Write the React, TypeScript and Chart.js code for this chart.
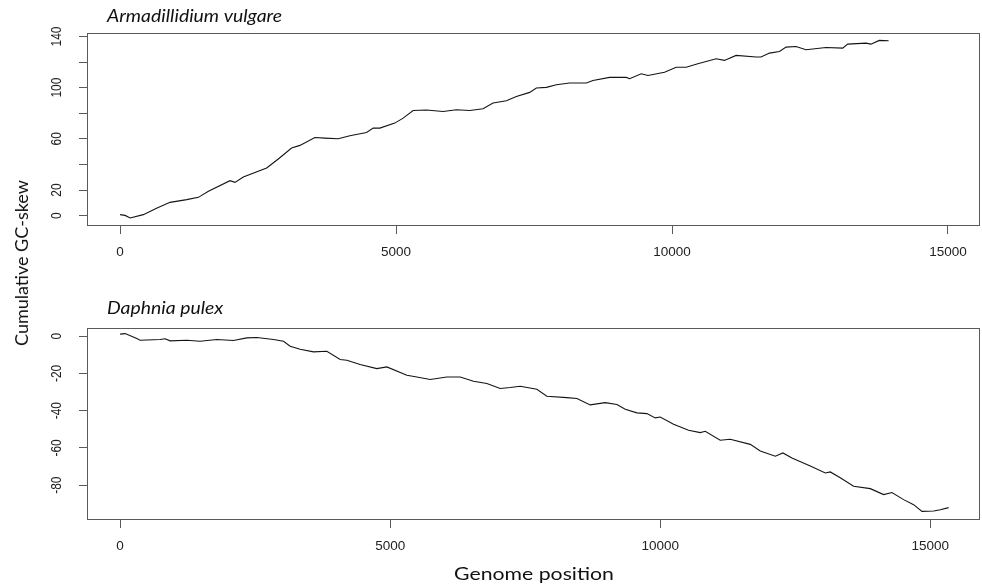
import React, { useEffect, useRef } from "react";
import { Chart, registerables } from "chart.js";

Chart.register(...registerables);

// ---- data ----
const armPos = [0, 90, 181, 420, 670, 905, 1207, 1418, 1600, 1991, 2081, 2232, 2655, 2866, 3107, 3258, 3529, 3710, 3952, 4163, 4465, 4585, 4706, 4977, 5128, 5309, 5551, 5852, 6094, 6335, 6576, 6757, 6999, 7180, 7421, 7542, 7723, 7904, 8145, 8447, 8567, 8869, 9170, 9231, 9442, 9563, 9864, 10075, 10256, 10467, 10800, 10950, 11161, 11523, 11613, 11765, 11946, 12066, 12247, 12428, 12790, 13092, 13183, 13514, 13604, 13755, 13924];
const armSkew = [0.8, 0.2, -1.8, 0.8, 6, 10.4, 12.5, 14.3, 19, 27.3, 26, 30.2, 37.2, 44.3, 52.8, 54.9, 61.1, 60.6, 60.1, 62.4, 65, 68.4, 68.4, 72.3, 76.2, 82.2, 82.5, 81.4, 82.7, 82.2, 83.5, 88, 89.8, 93.1, 96.3, 99.7, 100.2, 102.3, 103.6, 103.6, 105.6, 108, 108, 107, 110.8, 109.5, 112, 115.9, 115.9, 118.7, 122.6, 121.3, 125.2, 123.9, 123.9, 127, 128.3, 131.7, 132.2, 129.6, 131.4, 130.9, 134, 134.8, 134, 136.9, 136.6];

const dapPos = [0, 93, 309, 370, 741, 833, 926, 1235, 1481, 1790, 2099, 2346, 2531, 2840, 3025, 3148, 3333, 3580, 3827, 4074, 4198, 4444, 4753, 4938, 5309, 5494, 5741, 6049, 6296, 6543, 6790, 7037, 7222, 7407, 7716, 7901, 8272, 8457, 8704, 8981, 9198, 9352, 9568, 9753, 9907, 10000, 10247, 10525, 10741, 10833, 11111, 11296, 11667, 11852, 12130, 12272, 12438, 12778, 13056, 13148, 13333, 13580, 13889, 14136, 14290, 14506, 14691, 14846, 15062, 15185, 15339];
const dapSkew = [1.1, 1.4, -1.3, -2.2, -1.8, -1.4, -2.5, -2.2, -2.7, -1.8, -2.3, -0.9, -0.7, -1.8, -2.7, -5.4, -7, -8.4, -8.1, -12.5, -12.9, -15.2, -17.4, -16.5, -21, -21.9, -23.3, -21.9, -21.9, -24.2, -25.4, -28.1, -27.6, -26.9, -28.5, -32.3, -33, -33.5, -36.9, -35.7, -36.7, -39.2, -41.2, -41.6, -43.9, -43.4, -47.3, -50.5, -51.8, -51.1, -55.9, -55.4, -58.1, -61.7, -64.5, -62.7, -65.4, -69.7, -73.5, -72.9, -76, -80.6, -81.9, -85.1, -84, -87.8, -90.5, -94.1, -93.9, -93.2, -92.1];

const xTicks = [0, 5000, 10000, 15000];
const armYTicks = [0, 20, 40, 60, 80, 100, 120, 140];
const armYLabels = ["0", "20", "", "60", "", "100", "", "140"];
const dapYTicks = [0, -20, -40, -60, -80];
const dapYLabels = ["0", "-20", "-40", "-60", "-80"];

const panelTitles = ["Armadillidium vulgare", "Daphnia pulex"];
const yAxisTitle = "Cumulative GC-skew";
const xAxisTitle = "Genome position";

const AXIS_COLOR = "#5a5a5a";
const TEXT_COLOR = "#222222";
const TICK_FONT = '"Liberation Sans", Arial, sans-serif';

const panelPlugin = {
  id: "panelDeco",
  afterDraw(chart: any, _args: any, opts: any) {
    const { ctx, chartArea } = chart;
    const ys = chart.scales.y;
    ctx.save();
    // box
    ctx.strokeStyle = AXIS_COLOR;
    ctx.lineWidth = 1;
    ctx.strokeRect(
      Math.round(chartArea.left) + 0.5,
      Math.round(chartArea.top) + 0.5,
      Math.round(chartArea.right - chartArea.left) - 1,
      Math.round(chartArea.bottom - chartArea.top)
    );
    // rotated y labels
    ctx.fillStyle = TEXT_COLOR;
    ctx.font = `14px ${TICK_FONT}`;
    ctx.textAlign = "center";
    ctx.textBaseline = "alphabetic";
    opts.ticks.forEach((v: number, i: number) => {
      const lab = opts.labels[i];
      if (!lab) return;
      const py = ys.getPixelForValue(v);
      ctx.save();
      ctx.translate(opts.labelX, py);
      ctx.rotate(-Math.PI / 2);
      ctx.scale(0.85, 1);
      ctx.fillText(lab, 0, 0);
      ctx.restore();
    });
    // italic title
    ctx.font = `italic 17px Lato, "Open Sans", sans-serif`;
    ctx.fillStyle = "#111111";
    ctx.textAlign = "left";
    ctx.textBaseline = "middle";
    ctx.translate(chartArea.left + opts.titleDx, opts.titleY);
    ctx.scale(1.14, 1);
    ctx.fillText(opts.title, 0, 0);
    ctx.restore();
  },
};

function makeChart(
  canvas: HTMLCanvasElement,
  xs: number[],
  ys: number[],
  xmin: number,
  xmax: number,
  ymin: number,
  ymax: number,
  yTicks: number[],
  yLabels: string[],
  title: string,
  padTop: number,
  xHeight: number
) {
  return new Chart(canvas, {
    type: "line",
    data: {
      datasets: [
        {
          data: xs.map((x, i) => ({ x, y: ys[i] })),
          borderColor: "#141414",
          borderWidth: 1.1,
          pointRadius: 0,
          tension: 0,
          fill: false,
        },
      ],
    },
    options: {
      responsive: false,
      animation: false,
      events: [],
      layout: { padding: { left: 0, right: 2, top: padTop, bottom: 0 } },
      plugins: {
        legend: { display: false },
        tooltip: { enabled: false },
        title: { display: false },
        panelDeco: { ticks: yTicks, labels: yLabels, labelX: 61, title, titleDx: 20, titleY: 16.5 },
      } as any,
      scales: {
        x: {
          type: "linear",
          min: xmin,
          max: xmax,
          afterBuildTicks: (s: any) => {
            s.ticks = xTicks.map((v) => ({ value: v }));
          },
          afterFit: (s: any) => {
            s.height = xHeight;
          },
          ticks: {
            autoSkip: false,
            maxRotation: 0,
            minRotation: 0,
            padding: 10,
            color: TEXT_COLOR,
            font: { family: TICK_FONT, size: 13.5 },
            callback: (v: any) => String(v),
          },
          grid: {
            display: true,
            drawOnChartArea: false,
            drawTicks: true,
            tickLength: 9,
            color: AXIS_COLOR,
            lineWidth: 1,
          },
          border: { display: false },
        },
        y: {
          type: "linear",
          min: ymin,
          max: ymax,
          afterBuildTicks: (s: any) => {
            s.ticks = yTicks.map((v) => ({ value: v }));
          },
          afterFit: (s: any) => {
            s.width = 87;
          },
          ticks: { display: false },
          grid: {
            display: true,
            drawOnChartArea: false,
            drawTicks: true,
            tickLength: 8,
            color: AXIS_COLOR,
            lineWidth: 1,
          },
          border: { display: false },
        },
      },
    },
    plugins: [panelPlugin],
  } as any);
}

export default function App() {
  const topRef = useRef<HTMLCanvasElement>(null);
  const botRef = useRef<HTMLCanvasElement>(null);

  useEffect(() => {
    const c1 = makeChart(topRef.current!, armPos, armSkew, -600, 15580, -7.3, 142.7, armYTicks, armYLabels, panelTitles[0], 33, 67);
    const c2 = makeChart(botRef.current!, dapPos, dapSkew, -613, 15920, -98.2, 4.4, dapYTicks, dapYLabels, panelTitles[1], 36, 66);
    return () => {
      c1.destroy();
      c2.destroy();
    };
  }, []);

  return (
    <div style={{ position: "absolute", left: 0, top: 0, width: 982, height: 585, background: "#fff", overflow: "hidden" }}>
      <canvas ref={topRef} width={982} height={292} style={{ position: "absolute", left: 0, top: 0, width: 982, height: 292 }} />
      <canvas ref={botRef} width={982} height={293} style={{ position: "absolute", left: 0, top: 292, width: 982, height: 293 }} />
      <div
        style={{
          position: "absolute",
          left: 21,
          top: 263,
          transform: "translate(-50%, -50%) rotate(-90deg)",
          whiteSpace: "nowrap",
          fontFamily: 'Lato, "Open Sans", sans-serif',
          fontSize: 18,
          color: "#111",
          lineHeight: 1,
        }}
      >
        {yAxisTitle}
      </div>
      <div
        style={{
          position: "absolute",
          left: 534,
          top: 573,
          transform: "translate(-50%, -50%) scaleX(1.18)",
          whiteSpace: "nowrap",
          fontFamily: 'Lato, "Open Sans", sans-serif',
          fontSize: 18,
          color: "#111",
          lineHeight: 1,
        }}
      >
        {xAxisTitle}
      </div>
    </div>
  );
}
